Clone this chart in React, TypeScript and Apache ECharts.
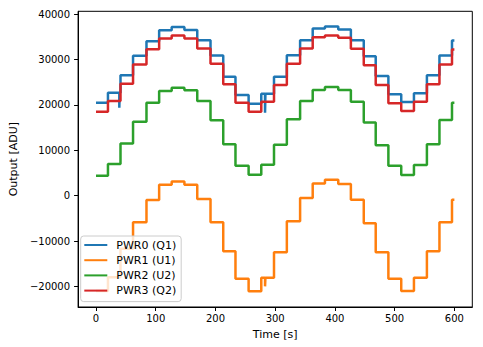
import React, { useEffect, useRef } from "react";
import * as echarts from "echarts";

// Times (s) at which each step level starts
const stepTimes = [0, 20, 41, 62, 84.5, 105.7, 126.7, 148, 169.5, 191.7, 213, 233.5, 255.5, 276.7, 298, 319.5, 341.7, 362.8, 383.3, 405.6, 426.7, 448.3, 468.3, 489.5, 511, 532.3, 554, 575, 596];
const endTime = 600;

const pwr0Levels = [20510, 22710, 26530, 30840, 34070, 36490, 37220, 36560, 34290, 30920, 26220, 22200, 20290, 22490, 26220, 30990, 34290, 36860, 37300, 36640, 34290, 30770, 26380, 22350, 20660, 22570, 26530, 30920, 34220];
const pwr1Levels = [-21030, -18000, -11720, -5870, -950, 2420, 3150, 2420, -730, -5870, -12240, -18310, -21100, -18090, -12460, -5650, -510, 2710, 3520, 2570, -880, -6090, -12460, -18310, -21030, -18090, -12240, -5870, -880];
const pwr2Levels = [4400, 6970, 11500, 16330, 20500, 23080, 23800, 23230, 20880, 16640, 11360, 6600, 4620, 6810, 11210, 16860, 20880, 23300, 23960, 23300, 20730, 16110, 11140, 6590, 4540, 6740, 11360, 16700, 20500];
const pwr3Levels = [18530, 20880, 24690, 28950, 32310, 34660, 35320, 34660, 32460, 29080, 24550, 20510, 18530, 20730, 24400, 29080, 32460, 34950, 35320, 34800, 32380, 28790, 24400, 20370, 18680, 20730, 24550, 28950, 32240];

// Short glitches [time, value]
const pwr0Glitches = [[39, 19400], [283, 18300]];
const pwr1Glitches = [[283, -20000]];
const pwr2Glitches: number[][] = [];
const pwr3Glitches: number[][] = [];

const seriesNames = ["PWR0 (Q1)", "PWR1 (U1)", "PWR2 (U2)", "PWR3 (Q2)"];
const colors = ["#1f77b4", "#ff7f0e", "#2ca02c", "#d62728"];
const xTicks = [0, 100, 200, 300, 400, 500, 600];
const yTicks = [-20000, -10000, 0, 10000, 20000, 30000, 40000];

function buildSteps(levels: number[], glitches: number[][]) {
  const pts: number[][] = stepTimes.map((t, i) => [t, levels[i]]);
  pts.push([endTime, levels[levels.length - 1]]);
  for (const [t, v] of glitches) {
    let idx = 0;
    for (let i = 0; i < stepTimes.length; i++) if (stepTimes[i] <= t) idx = i;
    pts.push([t, v], [t + 0.6, levels[idx]]);
  }
  pts.sort((a, b) => a[0] - b[0]);
  return pts;
}

const fmt = (v: number) => String(v).replace("-", "\u2212");

export default function App() {
  const ref = useRef<HTMLDivElement>(null);
  useEffect(() => {
    if (!ref.current) return;
    const chart = echarts.init(ref.current, undefined, { renderer: "svg" });
    const allLevels = [pwr0Levels, pwr1Levels, pwr2Levels, pwr3Levels];
    const allGlitches = [pwr0Glitches, pwr1Glitches, pwr2Glitches, pwr3Glitches];
    chart.setOption({
      animation: false,
      backgroundColor: "#ffffff",
      textStyle: { fontFamily: "DejaVu Sans" },
      grid: {
        left: 75.5,
        right: 10.7,
        top: 11.3,
        bottom: 40,
        show: true,
        borderColor: "#000",
        borderWidth: 1,
        containLabel: false,
      },
      legend: {
        orient: "vertical",
        left: 80.7,
        top: 236,
        icon: "rect",
        itemWidth: 23,
        itemHeight: 2,
        itemGap: 2.2,
        padding: [2.5, 5, 4.5, 3.6],
        borderColor: "#cccccc",
        borderWidth: 1,
        borderRadius: 3,
        backgroundColor: "rgba(255,255,255,0.8)",
        textStyle: { fontSize: 11, color: "#000", fontFamily: "DejaVu Sans", padding: [0, 0, 0, 4], lineHeight: 13 },
        data: seriesNames,
      },
      xAxis: {
        type: "value",
        min: -30,
        max: 630,
        name: "Time [s]",
        nameLocation: "middle",
        nameGap: 21.5,
        nameTextStyle: { fontSize: 11, color: "#000", fontFamily: "DejaVu Sans" },
        axisLine: { show: true, onZero: false, lineStyle: { color: "#000", width: 1 } },
        axisTick: { show: true, length: 4, lineStyle: { color: "#000" }, customValues: xTicks },
        axisLabel: { fontSize: 10, color: "#000", margin: 6, customValues: xTicks, formatter: fmt },
        splitLine: { show: false },
      },
      yAxis: {
        type: "value",
        min: -24550,
        max: 40660,
        name: "Output [ADU]",
        nameLocation: "middle",
        nameGap: 59,
        nameRotate: 90,
        nameTextStyle: { fontSize: 11, color: "#000", fontFamily: "DejaVu Sans" },
        axisLine: { show: true, onZero: false, lineStyle: { color: "#000", width: 1 } },
        axisTick: { show: true, length: 4, lineStyle: { color: "#000" }, customValues: yTicks },
        axisLabel: { fontSize: 10, color: "#000", margin: 8, customValues: yTicks, formatter: fmt },
        splitLine: { show: false },
      },
      series: seriesNames.map((name, i) => ({
        name,
        type: "line",
        step: "end",
        showSymbol: false,
        symbol: "none",
        color: colors[i],
        lineStyle: { color: colors[i], width: 2.5 },
        data: buildSteps(allLevels[i], allGlitches[i]),
      })),
    });
    return () => chart.dispose();
  }, []);
  return (
    <div
      ref={ref}
      style={{ position: "fixed", left: 0, top: 0, width: 483, height: 347, background: "#fff" }}
    />
  );
}
